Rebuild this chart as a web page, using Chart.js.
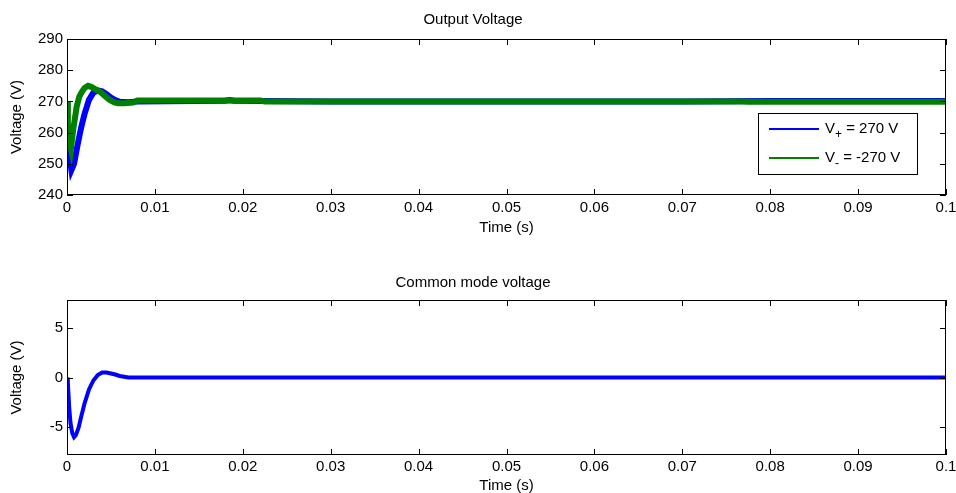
<!DOCTYPE html>
<html>
<head>
<meta charset="utf-8">
<script src="https://cdn.jsdelivr.net/npm/chart.js@4"></script>
<style>
  body { margin: 0; background: #fff; }
  canvas { position: absolute; left: 0; }
</style>
</head>
<body>
<canvas id="chart" width="956" height="250" style="top:0"></canvas>
<canvas id="chart2" width="956" height="243" style="top:250px"></canvas>
<script>
// top plot: output voltages
var vPlusTime = [0, 0.00015, 0.0005, 0.0008, 0.0012, 0.0016, 0.002, 0.0025, 0.003, 0.0035, 0.004, 0.0045, 0.005, 0.0055, 0.006, 0.007, 0.008, 0.018, 0.0185, 0.019, 0.03, 0.05, 0.07, 0.08, 0.09, 0.1];
var vPlus = [264, 255, 248, 250, 256, 261.5, 266, 270.5, 272.8, 273.5, 273.2, 272.3, 271.2, 270.4, 269.9, 269.7, 270, 270.2, 270.4, 270.2, 270, 270, 270, 270.1, 270.1, 270.1];
var vMinusTime = [0, 0.0001, 0.0003, 0.00045, 0.0007, 0.0011, 0.0014, 0.0017, 0.002, 0.0024, 0.0028, 0.0033, 0.0038, 0.0044, 0.0049, 0.0054, 0.0058, 0.0065, 0.0075, 0.008, 0.022, 0.0225, 0.05, 0.077, 0.0775, 0.1];
var vMinus = [270, 262, 257, 255, 260.8, 268.3, 271.5, 273.1, 274.3, 275, 274.6, 273.8, 273, 271.5, 270.4, 269.7, 269.4, 269.4, 269.6, 270.3, 270.3, 270, 270, 270, 269.85, 269.85];
// bottom plot: common mode voltage
var cmTime = [0, 0.0001, 0.00025, 0.0004, 0.0006, 0.0008, 0.001, 0.0013, 0.0016, 0.002, 0.0025, 0.003, 0.0035, 0.004, 0.0045, 0.005, 0.0055, 0.006, 0.007, 0.025, 0.05, 0.075, 0.1];
var cm = [0, -0.6, -3, -4.6, -5.6, -6, -5.8, -5.1, -4, -2.6, -1.2, -0.3, 0.25, 0.5, 0.5, 0.4, 0.3, 0.15, 0, 0, 0, 0, 0];
// ticks
var xTicks = [0, 0.01, 0.02, 0.03, 0.04, 0.05, 0.06, 0.07, 0.08, 0.09, 0.1];
var yTicksTop = [240, 250, 260, 270, 280, 290];
var yTicksBottom = [-5, 0, 5];

Chart.defaults.font.family = "'Liberation Sans', Arial, sans-serif";
Chart.defaults.font.size = 15;
Chart.defaults.color = "#000";

function pts(t, v) {
  return t.map((x, i) => ({ x: x, y: v[i] }));
}
function fmt(v) {
  return v === 0 ? "0" : String(Number(v.toFixed(2)));
}

// box round the plot + inward ticks, matlab style
const boxPlugin = {
  id: "box",
  afterDraw(chart) {
    const { ctx, chartArea: a, scales } = chart;
    ctx.save();
    ctx.strokeStyle = "#000";
    ctx.lineWidth = 1;
    ctx.strokeRect(a.left + 0.5, a.top + 0.5, a.width - 1, a.height - 1);
    ctx.beginPath();
    scales.x.ticks.forEach((t) => {
      let p = Math.round(scales.x.getPixelForValue(t.value)) + 0.5;
      ctx.moveTo(p, a.bottom); ctx.lineTo(p, a.bottom - 6);
      ctx.moveTo(p, a.top); ctx.lineTo(p, a.top + 6);
    });
    scales.y.ticks.forEach((t) => {
      let p = Math.round(scales.y.getPixelForValue(t.value)) + 0.5;
      ctx.moveTo(a.left, p); ctx.lineTo(a.left + 6, p);
      ctx.moveTo(a.right, p); ctx.lineTo(a.right - 6, p);
    });
    ctx.stroke();
    ctx.restore();
  },
};

// legend box inside the plot, with subscripts
const legendPlugin = {
  id: "boxLegend",
  afterDraw(chart) {
    const { ctx, chartArea: a } = chart;
    const w = 159, h = 61;
    const left = a.right - 29 - w, top = a.bottom - 21 - h;
    ctx.save();
    ctx.fillStyle = "#fff";
    ctx.fillRect(left, top, w, h);
    ctx.strokeStyle = "#000";
    ctx.lineWidth = 1;
    ctx.strokeRect(left + 0.5, top + 0.5, w, h);
    chart.data.datasets.forEach((ds, i) => {
      let y = top + 16 + i * 29;
      ctx.strokeStyle = ds.borderColor;
      ctx.lineWidth = 2;
      ctx.beginPath();
      ctx.moveTo(left + 11, y);
      ctx.lineTo(left + 61, y);
      ctx.stroke();
      ctx.fillStyle = "#000";
      ctx.textBaseline = "middle";
      ctx.font = "15px 'Liberation Sans', Arial, sans-serif";
      let x = left + 67;
      ctx.fillText(ds.label[0], x, y);
      x += ctx.measureText(ds.label[0]).width;
      ctx.font = "12px 'Liberation Sans', Arial, sans-serif";
      ctx.fillText(ds.label[1], x, y + 6);
      x += ctx.measureText(ds.label[1]).width;
      ctx.font = "15px 'Liberation Sans', Arial, sans-serif";
      ctx.fillText(ds.label.slice(2), x, y);
    });
    ctx.restore();
  },
};

function makeOptions(title, yMin, yMax, yTicks, titlePad, xHeight, xTickPad, xTitlePad) {
  return {
    responsive: false,
    animation: false,
    devicePixelRatio: 1,
    layout: { padding: { left: 0, right: 10, top: 0, bottom: 0 } },
    plugins: {
      legend: { display: false },
      tooltip: { enabled: false },
      title: {
        display: true,
        text: title,
        font: { size: 15, weight: "normal" },
        color: "#000",
        padding: titlePad,
      },
    },
    scales: {
      x: {
        type: "linear",
        min: 0,
        max: 0.1,
        grid: { display: false, drawTicks: false },
        border: { display: false },
        afterBuildTicks: (s) => { s.ticks = xTicks.map((v) => ({ value: v })); },
        afterFit: (s) => { s.height = xHeight; s.paddingLeft = 0; s.paddingRight = 0; },
        ticks: { padding: xTickPad, maxRotation: 0, callback: (v) => fmt(v) },
        title: { display: true, text: "Time (s)", padding: { top: 0, bottom: xTitlePad } },
      },
      y: {
        min: yMin,
        max: yMax,
        grid: { display: false, drawTicks: false },
        border: { display: false },
        afterBuildTicks: (s) => { s.ticks = yTicks.map((v) => ({ value: v })); },
        afterFit: (s) => { s.width = 67; s.paddingTop = 0; s.paddingBottom = 0; },
        ticks: { padding: 4, callback: (v) => fmt(v) },
        title: { display: true, text: "Voltage (V)", padding: { top: 8, bottom: 0 } },
      },
    },
  };
}

const myChart = new Chart(document.getElementById("chart").getContext("2d"), {
  type: "line",
  data: {
    datasets: [
      {
        label: "V+ = 270 V",
        data: pts(vPlusTime, vPlus),
        borderColor: "#0000ff",
        borderWidth: 6,
        pointRadius: 0,
        order: 1,
      },
      {
        label: "V- = -270 V",
        data: pts(vMinusTime, vMinus),
        borderColor: "#008000",
        borderWidth: 6,
        pointRadius: 0,
        order: 0,
      },
    ],
  },
  options: makeOptions("Output Voltage", 240, 290, yTicksTop, { top: 11, bottom: 10 }, 55, 4, 13),
  plugins: [boxPlugin, legendPlugin],
});

const myChart2 = new Chart(document.getElementById("chart2").getContext("2d"), {
  type: "line",
  data: {
    datasets: [
      {
        label: "Vcm",
        data: pts(cmTime, cm),
        borderColor: "#0000ff",
        borderWidth: 4,
        pointRadius: 0,
      },
    ],
  },
  options: makeOptions("Common mode voltage", -7.8, 7.8, yTicksBottom, { top: 24, bottom: 8 }, 38, 3, -2),
  plugins: [boxPlugin],
});
</script>
</body>
</html>
